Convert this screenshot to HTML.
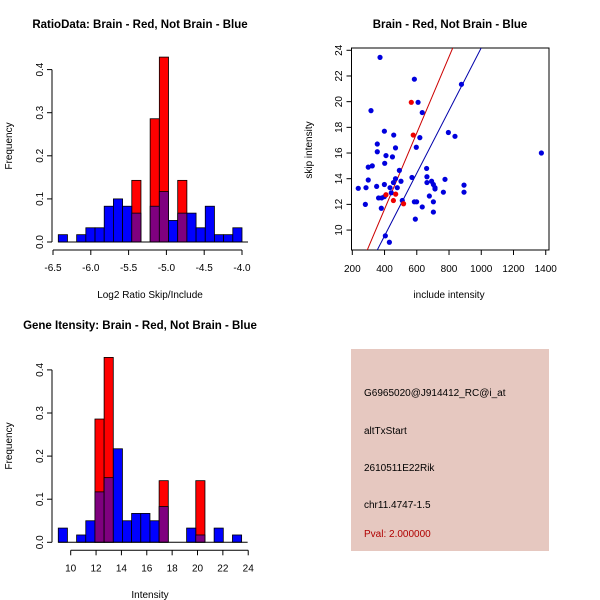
<!DOCTYPE html>
<html><head><meta charset="utf-8"><style>
body{margin:0;background:#fff;}
svg{display:block;font-family:"Liberation Sans","DejaVu Sans",sans-serif;}
</style></head><body>
<svg id="c" width="600" height="600" viewBox="0 0 600 600">
<rect width="600" height="600" fill="#fff"/>
<text x="140" y="28" font-size="11.5" font-weight="bold" text-anchor="middle">RatioData: Brain - Red, Not Brain - Blue</text>
<text x="450" y="28" font-size="11.5" font-weight="bold" text-anchor="middle">Brain - Red, Not Brain - Blue</text>
<text x="140" y="329" font-size="11.5" font-weight="bold" text-anchor="middle">Gene Itensity: Brain - Red, Not Brain - Blue</text>
<text x="150" y="298" font-size="10" text-anchor="middle">Log2 Ratio Skip/Include</text>
<text x="12" y="146" font-size="10" text-anchor="middle" transform="rotate(-90 12 146)">Frequency</text>
<text x="150" y="598" font-size="10" text-anchor="middle">Intensity</text>
<text x="12" y="446" font-size="10" text-anchor="middle" transform="rotate(-90 12 446)">Frequency</text>
<text x="449" y="298" font-size="10" text-anchor="middle">include intensity</text>
<text x="312" y="150" font-size="10" text-anchor="middle" transform="rotate(-90 312 150)">skip intensity</text>
<g>
<rect x="351" y="349" width="198" height="202" fill="#e6c8c0"/>
<text x="364" y="396" font-size="10">G6965020@J914412_RC@i_at</text>
<text x="364" y="434" font-size="10">altTxStart</text>
<text x="364" y="471" font-size="10">2610511E22Rik</text>
<text x="364" y="508" font-size="10">chr11.4747-1.5</text>
<text x="364" y="537" font-size="10" fill="#b00000">Pval: 2.000000</text>
</g>
</svg>
<script>
// Ratio histogram data
const ratioStart = -6.43, ratioWidth = 0.1215;
const ratioBlue = [0.017,0,0.017,0.033,0.033,0.083,0.1,0.083,0.067,0,0.083,0.117,0.05,0.067,0.067,0.033,0.083,0.017,0.017,0.033];
const ratioRed  = [0,0,0,0,0,0,0,0,0.143,0,0.286,0.429,0,0.143,0,0,0,0,0,0];
const ratioTicks = [-6.5,-6.0,-5.5,-5.0,-4.5,-4.0];
const ratioTickLabels = ["-6.5","-6.0","-5.5","-5.0","-4.5","-4.0"];
// Intensity histogram data
const intStart = 9.02, intWidth = 0.723;
const intBlue = [0.033,0,0.017,0.05,0.117,0.15,0.217,0.05,0.067,0.067,0.05,0.083,0,0,0.033,0.017,0,0.033,0,0.017];
const intRed  = [0,0,0,0,0.286,0.429,0,0,0,0,0,0.143,0,0,0,0.143,0,0,0,0];
const intTicks = [10,12,14,16,18,20,22,24];
const freqTicks = [0,0.1,0.2,0.3,0.4];
const freqTickLabels = ["0.0","0.1","0.2","0.3","0.4"];
// Scatter data
const blueX = [237,285,281,299,299,324,316,372,351,355,355,363,380,382,399,399,401,399,409,405,430,434,442,455,449,457,468,468,479,492,502,510,570,585,585,599,591,597,608,619,634,634,661,663,663,678,692,703,713,713,703,703,775,765,796,837,877,893,893,1373];
const blueY = [13.25,13.3,12.0,13.9,14.9,15.0,19.3,23.45,13.4,16.7,16.1,12.5,11.7,12.5,12.6,13.55,15.2,17.7,15.8,9.55,9.05,13.3,12.9,13.7,15.7,17.4,16.4,14.0,13.3,14.65,13.8,12.3,14.1,21.75,12.2,12.2,10.85,16.45,19.95,17.2,19.15,11.8,14.8,14.15,13.7,12.65,13.8,13.55,13.3,13.2,12.2,11.4,13.95,12.95,17.6,17.3,21.35,13.5,12.95,16.0];
const redX = [566,578,409,469,455,518];
const redY = [19.95,17.4,12.75,12.8,12.3,12.05];
const fitIntercepts = [-0.246,-0.216];
const fitSlopes = [0.02968,0.02441];
const fitColors = ["#cc0000","#0000aa"];
const scatterXTicks = [200,400,600,800,1000,1200,1400];
const scatterYTicks = [10,12,14,16,18,20,22,24];

const NS="http://www.w3.org/2000/svg";
const svg=document.getElementById('c');
function mk(tag,attrs,parent){const e=document.createElementNS(NS,tag);for(const k in attrs)e.setAttribute(k,attrs[k]);(parent||svg).appendChild(e);return e;}

function hist(opts){
  const g=mk('g',{});
  
  
  const sx=v=>opts.x0+(v-opts.d0)*opts.kx;
  const sy=v=>opts.y0-v*opts.ky;
  opts.red.forEach((v,i)=>{ if(v<=0) return;
    const r=mk('rect',{x:sx(opts.start+i*opts.w),y:sy(v),width:opts.w*opts.kx,height:v*opts.ky,fill:'#ff0000',stroke:'#000','stroke-width':0.8},g);
    
    
  });
  opts.blue.forEach((v,i)=>{ if(v<=0) return;
    const over=opts.red[i]>0;
    const r=mk('rect',{x:sx(opts.start+i*opts.w),y:sy(v),width:opts.w*opts.kx,height:v*opts.ky,fill:over?'#7f007f':'#0000ff',stroke:'#000','stroke-width':0.8},g);
    
    
  });
  mk('line',{x1:sx(opts.start),x2:sx(opts.start+opts.blue.length*opts.w)+6,y1:opts.y0,y2:opts.y0,stroke:'#000'},g);
  mk('line',{x1:opts.yax,x2:opts.yax,y1:sy(0),y2:sy(0.4),stroke:'#000'},g);
  freqTicks.forEach((t,i)=>{
    mk('line',{x1:opts.yax-5,x2:opts.yax,y1:sy(t),y2:sy(t),stroke:'#000'},g);
    const tx=mk('text',{x:opts.yax-9,y:sy(t),'font-size':10,'text-anchor':'middle',transform:`rotate(-90 ${opts.yax-9} ${sy(t)})`},g);
    tx.textContent=freqTickLabels[i];
    
    
  });
  const xa=opts.y0+8;
  mk('line',{x1:sx(opts.ticks[0]),x2:sx(opts.ticks[opts.ticks.length-1]),y1:xa,y2:xa,stroke:'#000'},g);
  opts.ticks.forEach((t,i)=>{
    mk('line',{x1:sx(t),x2:sx(t),y1:xa,y2:xa+5,stroke:'#000'},g);
    const tx=mk('text',{x:sx(t),y:xa+21,'font-size':10,'text-anchor':'middle'},g);
    tx.textContent=opts.labels?opts.labels[i]:String(t);
    
    
  });
}
hist({name:'ratio-histogram',x0:53,d0:-6.5,kx:75.6,y0:242,ky:431,yax:52,start:ratioStart,w:ratioWidth,blue:ratioBlue,red:ratioRed,ticks:ratioTicks,labels:ratioTickLabels});
hist({name:'intensity-histogram',x0:70.7,d0:10,kx:12.68,y0:542.3,ky:431,yax:52,start:intStart,w:intWidth,blue:intBlue,red:intRed,ticks:intTicks});

const sg=mk('g',{});


const px=v=>352.3+(v-200)*0.1612;
const py=v=>50.3+(24-v)*12.84;
mk('clipPath',{id:'clipS'},sg);
mk('rect',{x:351.5,y:48,width:197.5,height:202},document.getElementById('clipS'));
mk('rect',{x:351.5,y:48,width:197.5,height:202,fill:'none',stroke:'#000'},sg);
scatterXTicks.forEach(t=>{
  mk('line',{x1:px(t),x2:px(t),y1:250,y2:255,stroke:'#000'},sg);
  const tx=mk('text',{x:px(t),y:272,'font-size':10,'text-anchor':'middle'},sg);
  tx.textContent=String(t);
  
  
});
scatterYTicks.forEach(t=>{
  mk('line',{x1:346.5,x2:351.5,y1:py(t),y2:py(t),stroke:'#000'},sg);
  const tx=mk('text',{x:342,y:py(t),'font-size':10,'text-anchor':'middle',transform:`rotate(-90 342 ${py(t)})`},sg);
  tx.textContent=String(t);
  
  
});
const lg=mk('g',{'clip-path':'url(#clipS)'},sg);
fitSlopes.forEach((s,i)=>{
  const x1=200,x2=1400;
  const l=mk('line',{x1:px(x1),x2:px(x2),y1:py(fitIntercepts[i]+s*x1),y2:py(fitIntercepts[i]+s*x2),stroke:fitColors[i],'stroke-width':1},lg);
  
  
});
blueX.forEach((x,i)=>{
  const c=mk('circle',{cx:px(x),cy:py(blueY[i]),r:2.6,fill:'#0000dd'},lg);
  
  
});
redX.forEach((x,i)=>{
  const c=mk('circle',{cx:px(x),cy:py(redY[i]),r:2.6,fill:'#ee0000'},lg);
  
  
});
</script>
</body></html>
